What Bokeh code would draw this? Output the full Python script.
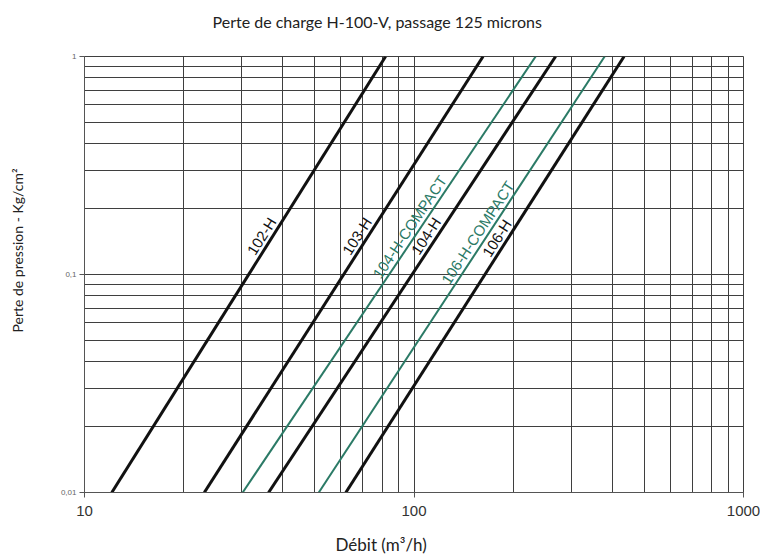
import math
from bokeh.plotting import figure
from bokeh.models import FixedTicker, Title
from bokeh.core.properties import value
from bokeh.embed import file_html
from bokeh.resources import INLINE

# ---- data ----
models = ["102-H", "103-H", "104-H-COMPACT", "104-H", "106-H-COMPACT", "106-H"]
flow_at_low = [12.1, 23.1, 30.2, 36.2, 51.4, 62.1]      # m3/h at 0.01 kg/cm2
flow_at_high = [82.0, 162.0, 234.0, 269.0, 379.0, 434.0]  # m3/h at 1 kg/cm2
dp_low = 0.01
dp_high = 1.0
label_dp = [0.14, 0.14, 0.154, 0.14, 0.145, 0.137]
is_compact = [False, False, True, False, True, False]

x_grid = [10, 20, 30, 40, 50, 60, 70, 80, 90, 100, 200, 300, 400, 500, 600, 700, 800, 900, 1000]
y_grid = [0.01, 0.02, 0.03, 0.04, 0.05, 0.06, 0.07, 0.08, 0.09, 0.1,
          0.2, 0.3, 0.4, 0.5, 0.6, 0.7, 0.8, 0.9, 1.0]
x_ticks = [10, 100, 1000]
x_tick_labels = ["10", "100", "1000"]
y_ticks = [0.01, 0.1, 1.0]
y_tick_labels = ["0,01", "0,1", "1"]

title_text = "Perte de charge H-100-V, passage 125 microns"
x_label_text = "Débit (m³/h)"
y_label_text = "Perte de pression - Kg/cm²"

BLACK = "#111111"
GREEN = "#2b7a66"
FW, FH = 659, 436
ppd_x = FW / 2.0   # pixels per decade
ppd_y = FH / 2.0

p = figure(x_axis_type="log", y_axis_type="log", x_range=(10, 1000), y_range=(0.01, 1),
           frame_width=FW, frame_height=FH,
           min_border_left=84, min_border_right=17, min_border_top=56, min_border_bottom=0,
           output_backend="svg", toolbar_location=None, background_fill_color="white",
           border_fill_color="white")


def spacer(px):
    # white, tiny panel that only reserves room between the frame and a heading
    return Title(text=".", text_font_size="1px", standoff=px, text_color="white")


def heading(text, size, offset):
    return Title(text=text, align="left", offset=offset, standoff=0,
                 text_font="Lato", text_font_size=size, text_font_style="normal",
                 text_color="#222222")


# panels are stacked from the frame outward in the order they are added
p.add_layout(spacer(23), "above")
p.add_layout(heading(title_text, "16px", 128), "above")
p.add_layout(spacer(10), "below")
p.add_layout(heading(x_label_text, "17px", 251), "below")
p.add_layout(spacer(29), "left")
p.add_layout(heading(y_label_text, "14px", 160), "left")

# grid
p.xgrid.ticker = FixedTicker(ticks=x_grid)
p.ygrid.ticker = FixedTicker(ticks=y_grid)
for g in (p.xgrid, p.ygrid):
    g.grid_line_color = "#3f3f3f"
    g.grid_line_width = 1
    g.grid_line_alpha = 1.0
p.outline_line_color = "#3f3f3f"

# axes
p.xaxis.ticker = FixedTicker(ticks=x_ticks)
p.xaxis.major_label_overrides = dict(zip(x_ticks, x_tick_labels))
p.yaxis.ticker = FixedTicker(ticks=y_ticks)
p.yaxis.major_label_overrides = dict(zip(y_ticks, y_tick_labels))
for ax in (p.xaxis[0], p.yaxis[0]):
    ax.minor_tick_line_color = None
    ax.major_tick_in = 0
    ax.major_tick_out = 5
    ax.axis_line_color = "#555555"
    ax.major_tick_line_color = "#555555"
p.xaxis.major_label_text_font = "Liberation Sans"
p.xaxis.major_label_text_font_size = "15px"
p.xaxis.major_label_text_color = "#333333"
p.xaxis.major_label_standoff = 8
p.yaxis.major_label_text_font = "Liberation Sans"
p.yaxis.major_label_text_font_size = "8px"
p.yaxis.major_label_text_color = "#666666"
p.yaxis.major_label_standoff = 3

# lines and labels
for name, q0, q1, lab_dp, comp in zip(models, flow_at_low, flow_at_high, label_dp, is_compact):
    color = GREEN if comp else BLACK
    width = 2 if comp else 3
    p.line([q0, q1], [dp_low, dp_high], line_color=color, line_width=width)
    l0, l1 = math.log10(q0), math.log10(q1)
    frac = (math.log10(lab_dp) - math.log10(dp_low)) / (math.log10(dp_high) - math.log10(dp_low))
    lx = 10 ** (l0 + frac * (l1 - l0))
    ang = math.atan2((math.log10(dp_high) - math.log10(dp_low)) * ppd_y, (l1 - l0) * ppd_x)
    p.text(x=[lx], y=[lab_dp], text=[name], angle=ang, text_align="center", text_baseline="bottom",
           text_font=value("Liberation Sans"), text_font_size="15px", text_color=color, y_offset=-2)

open("out.html", "w").write(file_html(p, INLINE))
